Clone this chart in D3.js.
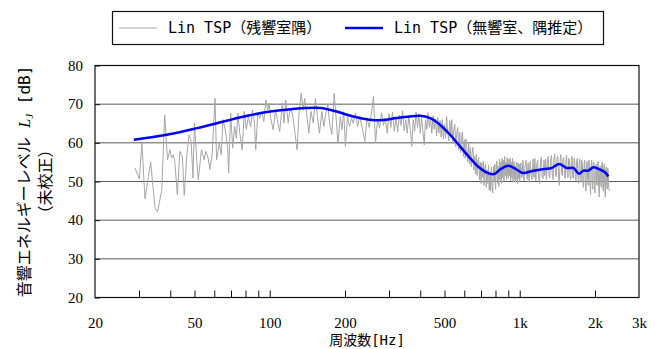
<!DOCTYPE html>
<html>
<head>
<meta charset="utf-8">
<script src="https://cdn.jsdelivr.net/npm/d3@7"></script>
<style>
  body { margin: 0; background: #fff; }
  svg { display: block; }
</style>
</head>
<body>
<script>
// Tick values
const freqTicks = [30, 40, 50, 60, 70, 80, 90, 100, 200, 300, 400, 500, 600, 700, 800, 900, 1000, 2000];
const freqLabels = [20, 50, 100, 200, 500, 1000, 2000, 3000];
const freqLabelText = ['20', '50', '100', '200', '500', '1k', '2k', '3k'];
const levelTicks = [20, 30, 40, 50, 60, 70, 80];

const seriesNames = ['Lin TSP（残響室隅）', 'Lin TSP（無響室、隅推定）'];

// Lin TSP, reverberation room corner  [Hz, dB]
const roomCorner = [
  [28.9, 53.5], [30.1, 50.7], [30.8, 60.0], [31.7, 45.5], [32.7, 51.3], [33.4, 55.0],
  [34.2, 47.9], [34.8, 43.2], [35.6, 42.1], [37.0, 47.9], [38.0, 67.2], [39.0, 55.6],
  [39.9, 58.2], [40.5, 56.1], [41.1, 56.9], [41.7, 55.2], [42.7, 46.6], [43.7, 57.8],
  [44.7, 56.5], [45.5, 46.4], [46.6, 56.9], [47.6, 62.1], [48.5, 60.4], [49.3, 50.9],
  [50.0, 65.1], [51.1, 55.2], [51.8, 50.5], [53.3, 58.2], [54.6, 55.6], [55.5, 57.8],
  [56.7, 56.1], [57.6, 53.1], [58.9, 57.4], [60.4, 71.5], [61.3, 55.6], [62.8, 59.9],
  [64.0, 56.9], [65.0, 66.0], [66.4, 63.4], [67.8, 59.1], [68.5, 52.2], [69.8, 67.7],
  [71.1, 58.6], [72.4, 64.2], [73.6, 61.2], [74.5, 67.7], [75.9, 62.5], [77.6, 58.2],
  [79.1, 68.1], [80.6, 63.4], [82.1, 66.8], [83.9, 64.2], [85.3, 68.5], [86.9, 65.1],
  [87.9, 58.2], [89.6, 67.7], [91.3, 66.4], [93.0, 68.1], [94.7, 65.5], [96.5, 71.1],
  [98.1, 68.5], [99.6, 70.3], [100.6, 66.8], [103.2, 63.4], [105.5, 68.5], [107.2, 66.0],
  [109.6, 62.9], [112.4, 70.3], [114.1, 65.1], [115.9, 71.1], [118.5, 65.1], [120.7, 69.0],
  [123.5, 67.2], [126.2, 62.5], [128.6, 58.2], [131.0, 67.7], [133.6, 72.8], [136.2, 68.5],
  [137.9, 71.5], [140.5, 67.7], [143.3, 62.5], [146.1, 68.1], [149.4, 65.1], [152.3, 71.5],
  [155.2, 66.8], [158.1, 62.5], [161.6, 68.1], [164.6, 64.2], [167.7, 67.7], [170.8, 69.8],
  [173.5, 65.1], [177.2, 62.1], [181.1, 72.8], [184.5, 66.0], [187.5, 59.9], [191.5, 66.8],
  [194.6, 63.4], [197.7, 68.1], [200.8, 59.1], [204.6, 66.8], [208.5, 64.2], [212.5, 66.4],
  [215.8, 65.1], [220.6, 67.7], [224.8, 64.2], [229.1, 66.8],
  [235, 63.5], [240, 60.4], [245, 66.5], [250, 64.0], [255, 67.5], [260, 72.0],
  [265, 60.0], [270, 66.0], [275, 63.8], [280, 67.8], [285, 64.5], [290, 66.5],
  [295, 62.5], [300, 67.5], [305, 64.0], [310, 68.0], [315, 63.0], [320, 66.5],
  [325, 62.8], [330, 67.2], [335, 64.5], [340, 68.3], [345, 63.2], [350, 66.0],
  [355, 62.5], [360, 67.0], [365, 63.5], [370, 59.1], [375, 66.0], [380, 63.0],
  [385, 68.0], [390, 64.0], [395, 67.5], [400, 62.5], [405, 66.5], [410, 63.0],
  [415, 59.5], [420, 66.0], [425, 63.5], [430, 67.8], [435, 64.0], [440, 66.5],
  [445, 62.5], [450, 67.0], [455, 63.5], [460, 66.2], [465, 61.8], [470, 66.5],
  [475, 62.5], [480, 65.8], [485, 61.5], [490, 66.0], [495, 61.0], [500, 64.8],
  [505, 61.2], [510, 66.8], [515, 63.0], [520, 60.5], [525, 65.8], [530, 62.0],
  [535, 66.0], [540, 59.8], [545, 63.5], [550, 64.8], [555, 59.0], [560, 62.5],
  [565, 64.0], [570, 58.2], [575, 62.8], [580, 57.5], [585, 61.5], [590, 62.8],
  [595, 56.5], [600, 60.8], [605, 56.0], [610, 61.0], [615, 58.5], [620, 55.0],
  [625, 59.8], [630, 54.5], [635, 58.8], [640, 53.8], [645, 57.5], [650, 58.8],
  [655, 53.0], [660, 56.5], [665, 52.0], [670, 57.0], [675, 51.5], [680, 55.5],
  [685, 56.2], [690, 50.5], [695, 55.0], [700, 49.5], [705, 54.8], [710, 51.0],
  [715, 55.2], [720, 49.0], [725, 53.5], [730, 54.5], [735, 48.5], [740, 53.0],
  [745, 49.5], [750, 54.2], [755, 47.8], [760, 52.5], [765, 47.5], [770, 53.8],
  [775, 49.0], [780, 47.0], [785, 54.0], [790, 50.0], [795, 54.5], [800, 48.0],
  [805, 53.0], [810, 55.2], [815, 49.5], [820, 54.0], [825, 48.8], [830, 55.8],
  [835, 50.5], [840, 55.0], [845, 49.5], [850, 56.0], [855, 51.0], [860, 55.5],
  [865, 50.0], [870, 56.5], [875, 51.5], [880, 55.0], [885, 50.5], [890, 56.2],
  [895, 52.0], [900, 50.8], [905, 55.8], [910, 51.5], [915, 56.0], [920, 50.2],
  [925, 55.0], [930, 51.0], [935, 56.0], [940, 49.8], [945, 54.5], [950, 55.2],
  [955, 50.5], [960, 54.0], [965, 49.8], [970, 55.0], [975, 51.5], [980, 49.5],
  [985, 54.8], [990, 50.8], [995, 54.5], [1000, 50.0],
  [1010, 54.8], [1020, 51.0], [1030, 55.5], [1040, 50.2], [1050, 54.0], [1060, 55.5],
  [1070, 50.5], [1080, 54.8], [1090, 49.8], [1100, 55.2], [1110, 51.5], [1120, 50.5],
  [1130, 55.8], [1140, 51.0], [1150, 56.0], [1160, 50.2], [1170, 54.5], [1180, 55.5],
  [1190, 50.8], [1200, 49.5], [1210, 55.0], [1220, 56.2], [1230, 51.2], [1240, 50.8],
  [1250, 55.5], [1260, 51.5], [1270, 55.8], [1280, 50.5], [1290, 54.8], [1300, 56.5],
  [1310, 51.5], [1320, 51.0], [1330, 55.5], [1340, 56.8], [1350, 51.8], [1360, 50.5],
  [1370, 55.8], [1380, 57.2], [1390, 52.0], [1400, 51.2], [1410, 56.0], [1420, 56.5],
  [1430, 51.5], [1440, 49.0], [1450, 55.5], [1460, 57.0], [1470, 52.5], [1480, 51.5],
  [1490, 55.8], [1500, 56.2], [1510, 51.5], [1520, 50.8], [1530, 55.5], [1540, 56.8],
  [1550, 51.5], [1560, 51.0], [1570, 56.0], [1580, 55.8], [1590, 51.2], [1600, 50.5],
  [1610, 55.5], [1620, 56.5], [1630, 51.0], [1640, 50.8], [1650, 56.0], [1660, 55.5],
  [1670, 50.5], [1680, 50.2], [1690, 55.5], [1700, 56.0], [1710, 51.0], [1720, 49.5],
  [1730, 54.8], [1740, 55.8], [1750, 50.5], [1760, 50.0], [1770, 55.5], [1780, 55.0],
  [1790, 49.5], [1800, 48.5], [1810, 54.5], [1820, 55.5], [1830, 50.0], [1840, 47.5],
  [1850, 54.0], [1860, 55.2], [1870, 50.5], [1880, 49.0], [1890, 55.5], [1900, 54.8],
  [1910, 49.5], [1920, 46.5], [1930, 54.0], [1940, 55.5], [1950, 50.0], [1960, 48.0],
  [1970, 55.0], [1980, 55.0], [1990, 49.0], [2000, 47.0], [2010, 53.5], [2020, 54.5],
  [2030, 50.0], [2040, 49.0], [2050, 55.0], [2060, 55.2], [2070, 48.5], [2080, 46.0],
  [2090, 53.5], [2100, 54.0], [2110, 49.5], [2120, 48.5], [2130, 54.5], [2140, 55.0],
  [2150, 49.0], [2160, 47.5], [2170, 54.0], [2180, 54.5], [2190, 48.5], [2200, 46.0],
  [2210, 53.0], [2220, 53.8], [2230, 49.0], [2240, 48.0], [2250, 53.5], [2260, 52.5],
  [2270, 48.5], [2280, 47.5]
];

// Lin TSP, anechoic room (corner estimate)  [Hz, dB]
const anechoicEst = [
  [28.6, 60.8], [38.7, 62.1], [51.1, 63.8], [65.3, 65.5], [81.3, 67.0], [100.4, 68.1],
  [121.7, 68.7], [159.3, 69.0], [185.3, 68.1], [215.7, 66.8], [251, 66.0], [284, 65.9],
  [322, 66.4], [399, 67.0], [438, 66.4], [480, 64.7], [526, 62.1], [577, 59.1],
  [632, 56.1], [693, 53.5], [760, 52.0], [796, 52.0], [834, 53.1], [900, 54.1],
  [972, 53.1], [1028, 52.2], [1133, 52.8], [1242, 53.2], [1342, 53.5], [1439, 54.5],
  [1541, 53.5], [1638, 53.5], [1727, 52.0], [1796, 52.8], [1881, 52.8], [1969, 53.7],
  [2094, 53.1], [2193, 52.4], [2261, 51.3]
];

const width = 659;
const height = 349;
const plot = { left: 95, right: 639, top: 65.5, bottom: 297.5 };

const svg = d3.select('body')
  .append('svg')
  .attr('width', width)
  .attr('height', height)
  .style('font-family', 'Liberation Serif, serif');

const x = d3.scaleLog()
  .domain([20, 3000])
  .range([plot.left, plot.right]);

const y = d3.scaleLinear()
  .domain([20, 80])
  .range([plot.bottom, plot.top]);

// horizontal grid
svg.append('g')
  .selectAll('line')
  .data(levelTicks.slice(1, -1))
  .enter().append('line')
  .attr('x1', plot.left)
  .attr('x2', plot.right)
  .attr('y1', d => y(d))
  .attr('y2', d => y(d))
  .attr('stroke', '#5a5a5a')
  .attr('stroke-width', 1);

// data lines
const line = d3.line()
  .x(d => x(d[0]))
  .y(d => y(d[1]));

svg.append('path')
  .datum(roomCorner)
  .attr('fill', 'none')
  .attr('stroke', '#a6a6a6')
  .attr('stroke-width', 1)
  .attr('d', line);

svg.append('path')
  .datum(anechoicEst)
  .attr('fill', 'none')
  .attr('stroke', '#0000ff')
  .attr('stroke-width', 2.5)
  .attr('stroke-linejoin', 'round')
  .attr('d', line.curve(d3.curveCatmullRom));

// frame
svg.append('rect')
  .attr('x', plot.left)
  .attr('y', plot.top)
  .attr('width', plot.right - plot.left)
  .attr('height', plot.bottom - plot.top)
  .attr('fill', 'none')
  .attr('stroke', '#111')
  .attr('stroke-width', 1.2);

// x tick marks (inside)
svg.append('g')
  .attr('transform', `translate(0,${plot.bottom})`)
  .call(d3.axisBottom(x).tickValues(freqTicks).tickSizeInner(-7).tickSizeOuter(0).tickFormat(''))
  .call(g => g.select('.domain').remove())
  .call(g => g.selectAll('line').attr('stroke', '#111'));

// x labels
svg.append('g')
  .attr('transform', `translate(0,${plot.bottom})`)
  .call(d3.axisBottom(x).tickValues(freqLabels).tickSize(0).tickPadding(20)
    .tickFormat((d, i) => freqLabelText[i]))
  .call(g => g.select('.domain').remove())
  .call(g => g.selectAll('text')
    .attr('fill', '#000')
    .style('font-family', 'Liberation Serif, serif')
    .style('font-size', '15px'));

// y axis
svg.append('g')
  .attr('transform', `translate(${plot.left},0)`)
  .call(d3.axisLeft(y).tickValues(levelTicks).tickSizeInner(-5).tickSizeOuter(0).tickPadding(12))
  .call(g => g.select('.domain').remove())
  .call(g => g.selectAll('line').attr('stroke', '#111'))
  .call(g => g.selectAll('text')
    .attr('fill', '#000')
    .style('font-family', 'Liberation Serif, serif')
    .style('font-size', '15px'));

// axis titles
const gothic = 'DejaVu Sans Mono, Noto Sans CJK JP, sans-serif';

svg.append('text')
  .attr('x', (plot.left + plot.right) / 2)
  .attr('y', 345)
  .attr('text-anchor', 'middle')
  .style('font-family', gothic)
  .style('font-size', '14px')
  .text('周波数[Hz]');

const yTitle = svg.append('text')
  .attr('transform', `translate(30,${(plot.top + plot.bottom) / 2}) rotate(-90)`)
  .attr('text-anchor', 'middle')
  .style('font-family', gothic)
  .style('font-size', '16px');
yTitle.append('tspan').text('音響エネルギーレベル ');
yTitle.append('tspan')
  .style('font-family', 'Liberation Serif, serif')
  .style('font-style', 'italic')
  .style('font-size', '16px')
  .text('L');
yTitle.append('tspan')
  .attr('dy', 3)
  .style('font-family', 'Liberation Serif, serif')
  .style('font-style', 'italic')
  .style('font-size', '11px')
  .text('J');
yTitle.append('tspan')
  .attr('dy', -3)
  .text(' [dB]');

svg.append('text')
  .attr('transform', `translate(51,${(plot.top + plot.bottom) / 2}) rotate(-90)`)
  .attr('text-anchor', 'middle')
  .style('font-family', gothic)
  .style('font-size', '16px')
  .text('（未校正）');

// legend
const legend = svg.append('g');
legend.append('rect')
  .attr('x', 112.5)
  .attr('y', 11.5)
  .attr('width', 491)
  .attr('height', 33)
  .attr('fill', '#fff')
  .attr('stroke', '#111')
  .attr('stroke-width', 1.2);

const legendItems = [
  { name: seriesNames[0], color: '#c4c4c4', w: 1.5, x: 119 },
  { name: seriesNames[1], color: '#0000ff', w: 2.5, x: 345 }
];
const item = legend.selectAll('.item')
  .data(legendItems)
  .enter().append('g')
  .attr('class', 'item')
  .attr('transform', d => `translate(${d.x},28)`);
item.append('line')
  .attr('x1', 0)
  .attr('x2', 38)
  .attr('stroke', d => d.color)
  .attr('stroke-width', d => d.w);
item.append('text')
  .attr('x', 49)
  .attr('dy', '0.36em')
  .style('font-family', gothic)
  .style('font-size', '15px')
  .text(d => d.name);
</script>
</body>
</html>
